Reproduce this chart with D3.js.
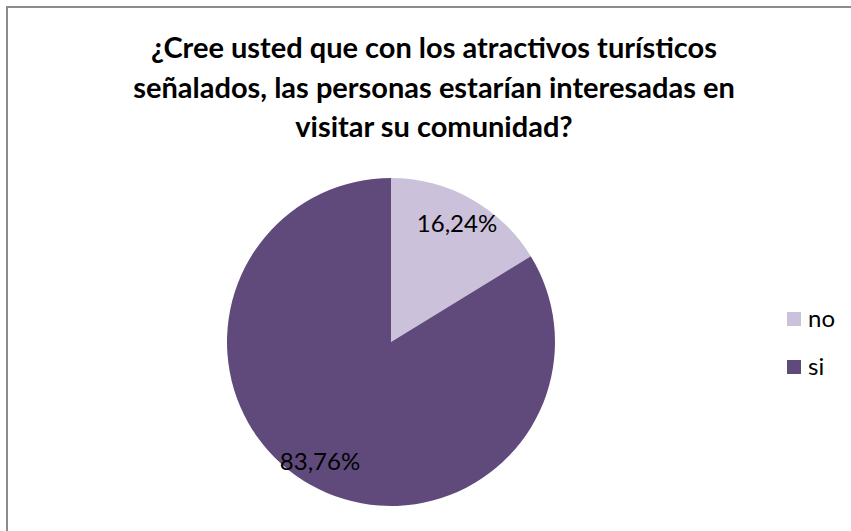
<!DOCTYPE html>
<html><head><meta charset="utf-8">
<script src="https://cdn.jsdelivr.net/npm/d3@7"></script>
<style>body{margin:0;background:#fff;}svg{display:block;}</style>
</head><body>
<svg id="c" width="851" height="531"></svg>
<script>
const categories = ["no", "si"];
const values = [16.24, 83.76];
const labels = ["16,24%", "83,76%"];
const colors = ["#CCC1DA", "#604A7B"];
const titleLines = ["¿Cree usted que con los atractivos turísticos", "señalados, las personas estarían interesadas en", "visitar su comunidad?"];

const svg = d3.select("#c");
svg.append("rect").attr("x", 7).attr("y", 7).attr("width", 900).attr("height", 600)
  .attr("fill", "#fff").attr("stroke", "#8c8c8c").attr("stroke-width", 2);

const title = svg.append("text").attr("text-anchor", "middle")
  .attr("font-family", "Lato, 'Open Sans', sans-serif").attr("font-weight", "bold")
  .attr("font-size", 29).attr("fill", "#000");
titleLines.forEach((t, i) => title.append("tspan").attr("x", 434).attr("y", 58 + i * 39.5).text(t));

const cx = 391, cy = 342, r = 164;
const pie = d3.pie().sort(null).value(d => d)(values);
const arc = d3.arc().innerRadius(0).outerRadius(r);
const g = svg.append("g").attr("transform", `translate(${cx},${cy})`);
g.selectAll("path").data(pie).join("path").attr("d", arc).attr("fill", (d, i) => colors[i]);

const lblPos = [[66, -116], [-71, 122]];
g.selectAll("text.lbl").data(pie).join("text").attr("class", "lbl")
  .attr("x", (d, i) => lblPos[i][0]).attr("y", (d, i) => lblPos[i][1])
  .attr("text-anchor", "middle").attr("dominant-baseline", "middle")
  .attr("font-family", "Lato, 'Open Sans', sans-serif").attr("font-size", 24).attr("fill", "#000")
  .text((d, i) => labels[i]);

const leg = svg.append("g");
categories.forEach((c, i) => {
  const y = 312 + i * 48;
  leg.append("rect").attr("x", 787).attr("y", y).attr("width", 14).attr("height", 14).attr("fill", colors[i]);
  leg.append("text").attr("x", 808).attr("y", y + 15).attr("font-family", "Lato, 'Open Sans', sans-serif")
    .attr("font-size", 24).attr("fill", "#000").text(c);
});
</script>
</body></html>
